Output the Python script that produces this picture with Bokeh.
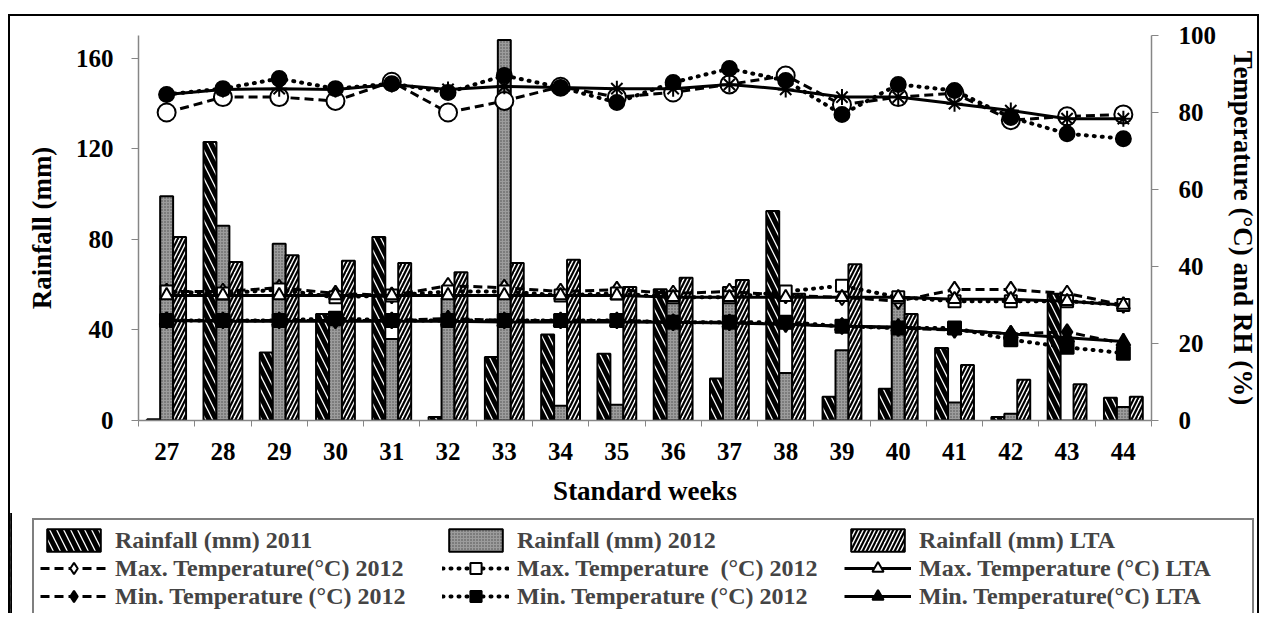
from bokeh.plotting import figure
from bokeh.models import (Range1d, LinearAxis, FixedTicker, Legend, LegendItem,
                          ColumnDataSource)
from bokeh.transform import dodge
from bokeh.embed import file_html
from bokeh.resources import INLINE

weeks = [27, 28, 29, 30, 31, 32, 33, 34, 35, 36, 37, 38, 39, 40, 41, 42, 43, 44]
rain_2011 = [0.5, 123, 30, 47, 81, 1.5, 28, 38, 29.5, 58, 18.5, 92.5, 10.5, 14, 32, 1.5, 56, 10]
rain_2012 = [99, 86, 78, 48, 36, 54, 168, 6.5, 7, 55, 59, 21, 31, 54, 8, 3, 0, 6]
rain_lta = [81, 70, 73, 70.5, 69.5, 65.5, 69.5, 71, 59, 63, 62, 56, 69, 47, 24.5, 18, 16, 10.5]

tmax_a = [33.5, 33.5, 34.5, 33, 32.5, 35, 34.5, 33.5, 34, 33, 33.5, 32.5, 32, 31, 34, 34, 33, 30]
tmax_b = [33.5, 33, 34, 32, 32.5, 33.5, 33.5, 32.5, 33, 32, 32, 33.5, 35, 32, 31, 31, 31, 30]
tmax_lta = [32.5, 32.5, 32.5, 32.5, 32.5, 32.5, 32.5, 32.5, 32.5, 32, 32, 32, 32, 32, 31.5, 31.5, 31, 30]
tmin_a = [26, 26, 26, 26, 26, 26.5, 26, 26, 26, 25.5, 25.5, 25, 24.5, 24, 23.5, 22.5, 23, 20]
tmin_b = [26, 26, 26, 26.5, 26, 26, 26, 26, 26, 25.5, 25.5, 25.5, 24.5, 24, 24, 21, 19, 17.5]
tmin_lta = [26, 25.8, 25.8, 25.8, 25.8, 25.8, 25.6, 25.6, 25.6, 25.5, 25.3, 25, 24.5, 24.3, 23.5, 22.5, 21.5, 20.5]

rh_a = [80, 84, 84, 83, 88, 80, 83, 86.7, 84, 85.2, 87.3, 89.6, 82, 84, 85, 78, 79, 79.5]
rh_b = [84.7, 86.2, 88.8, 86.2, 87.5, 85.2, 89.6, 86.5, 82.6, 87.8, 91.4, 88.3, 79.5, 87.3, 85.7, 78.7, 74.5, 73.2]
rh_c = [84.7, 86, 86.2, 86, 87.3, 86, 86.8, 86.5, 86.2, 86.2, 87.3, 86, 84, 84, 82.3, 80.5, 78.4, 78.4]

labels = ["Rainfall (mm) 2011", "Rainfall (mm) 2012", "Rainfall (mm) LTA",
          "Max. Temperature(\u00b0C) 2012", "Max. Temperature  (\u00b0C) 2012", "Max. Temperature (\u00b0C) LTA",
          "Min. Temperature (\u00b0C) 2012", "Min. Temperature (\u00b0C) 2012", "Min. Temperature(\u00b0C) LTA"]

FONT = "Liberation Serif"

data = dict(week=weeks, r11=rain_2011, r12=rain_2012, rl=rain_lta,
            xa=tmax_a, xb=tmax_b, xl=tmax_lta,
            na=tmin_a, nb=tmin_b, nl=tmin_lta,
            ha=rh_a, hb=rh_b, hc=rh_c)
src = ColumnDataSource(data)

BW = 0.23
BAR_STYLES = [
    ("r11", -BW, dict(fill_color="white", hatch_pattern="left_diagonal_line", hatch_color="black",
                      hatch_weight=5, hatch_scale=14)),
    ("r12", 0.0, dict(fill_color="#9c9c9c", hatch_pattern="dot", hatch_color="#4a4a4a",
                      hatch_weight=1, hatch_scale=3)),
    ("rl", BW, dict(fill_color="white", hatch_pattern="right_diagonal_line", hatch_color="black",
                    hatch_weight=2.2, hatch_scale=8)),
]
DASH = "9 5"
DOT = "1 7"
LINE_STYLES = [
    ("ha", DASH, "circle", "white", 18, 3, "butt"),
    ("hb", DOT, "circle", "black", 15, 4, "round"),
    ("hc", "solid", "asterisk", "black", 16, 3, "butt"),
    ("xa", DASH, "diamond", "white", 16, 3, "butt"),
    ("xb", DOT, "square", "white", 12, 4, "round"),
    ("xl", "solid", "triangle", "white", 13, 3, "butt"),
    ("na", DASH, "diamond", "black", 16, 3, "butt"),
    ("nb", DOT, "square", "black", 13, 4, "round"),
    ("nl", "solid", "triangle", "black", 14, 3, "butt"),
]


def draw_all(fig, source, y_name):
    bars = []
    for col, off, st in BAR_STYLES:
        bars.append(fig.vbar(x=dodge("week", off, range=fig.x_range), top=col, width=BW,
                             source=source, line_color="black", line_width=2, **st))
    lines = {}
    for col, dash, marker, fill, size, lw, cap in LINE_STYLES:
        kw = dict(y_range_name=y_name) if y_name else {}
        ln = fig.line("week", col, source=source, line_color="black", line_width=lw,
                      line_dash=dash, line_cap=cap, **kw)
        mk = fig.scatter("week", col, source=source, marker=marker, size=size,
                         fill_color=fill, line_color="black", line_width=2, **kw)
        lines[col] = [ln, mk]
    return bars, lines


# ---------------- main chart ----------------
p = figure(width=1251, height=499, x_range=Range1d(26.5, 44.5), y_range=Range1d(0, 170),
           output_backend="svg", toolbar_location=None,
           min_border_left=128, min_border_right=107, min_border_top=19, min_border_bottom=95)
p.styles = {"margin-left": "8px", "margin-top": "14px",
            "border-left": "2px solid black", "border-top": "2px solid black",
            "border-right": "2px solid black"}
p.extra_y_ranges = {"temp": Range1d(0, 100)}
p.outline_line_color = None
p.xgrid.visible = False
p.ygrid.visible = False

draw_all(p, src, "temp")

AX = "#868686"
p.xaxis.ticker = FixedTicker(ticks=weeks, minor_ticks=[w - 0.5 for w in weeks] + [weeks[-1] + 0.5])
p.xaxis.major_tick_out = 0
p.xaxis.major_tick_in = 0
p.xaxis.minor_tick_out = 6
p.xaxis.minor_tick_in = 0
p.xaxis.minor_tick_line_color = AX
p.xaxis.major_label_standoff = 16
p.xaxis.axis_label = "Standard weeks"
p.xaxis.axis_label_standoff = 13

p.yaxis.ticker = FixedTicker(ticks=[0, 40, 80, 120, 160])
p.yaxis.axis_label = "Rainfall (mm)"

ax2 = LinearAxis(y_range_name="temp", ticker=FixedTicker(ticks=[0, 20, 40, 60, 80, 100]),
                 axis_label="Temperature (\u00b0C) and RH (%)")
p.add_layout(ax2, "right")

for ax in [p.xaxis[0], p.yaxis[0], ax2]:
    ax.axis_line_color = AX
    ax.axis_line_width = 1.5
    ax.major_label_text_font = FONT
    ax.major_label_text_font_style = "bold"
    ax.major_label_text_font_size = "25px"
    ax.major_label_text_color = "black"
    ax.axis_label_text_font = FONT
    ax.axis_label_text_font_style = "bold"
    ax.axis_label_text_font_size = "27px"
    ax.axis_label_text_color = "black"
for ax in [p.yaxis[0], ax2]:
    ax.major_tick_line_color = AX
    ax.major_tick_out = 7
    ax.major_tick_in = 0
    ax.minor_tick_line_color = None
p.yaxis.major_label_standoff = 18
ax2.major_label_standoff = 20
p.yaxis.axis_label_standoff = 16
ax2.axis_label_standoff = 9

# ---------------- legend strip (separate root, glyphs kept out of view) ----------------
q = figure(width=1251, height=100, x_range=Range1d(100, 101), y_range=Range1d(0, 1),
           x_axis_type=None, y_axis_type=None, output_backend="svg", toolbar_location=None,
           min_border=0)
q.styles = {"margin-left": "8px",
            "border-left": "2px solid black", "border-right": "2px solid black"}
q.outline_line_color = None
q.border_fill_alpha = 0
q.background_fill_alpha = 0
lbars, llines = draw_all(q, src, None)

items = [LegendItem(label=labels[0], renderers=[lbars[0]]),
         LegendItem(label=labels[3], renderers=llines["xa"]),
         LegendItem(label=labels[6], renderers=llines["na"]),
         LegendItem(label=labels[1], renderers=[lbars[1]]),
         LegendItem(label=labels[4], renderers=llines["xb"]),
         LegendItem(label=labels[7], renderers=llines["nb"]),
         LegendItem(label=labels[2], renderers=[lbars[2]]),
         LegendItem(label=labels[5], renderers=llines["xl"]),
         LegendItem(label=labels[8], renderers=llines["nl"])]
leg = Legend(items=items, location=(22, -5), ncols=3,
             border_line_color="black", border_line_width=2,
             background_fill_color="white", background_fill_alpha=1,
             label_text_font=FONT, label_text_font_style="bold", label_text_font_size="24px",
             glyph_width=67, glyph_height=28, label_width=327, label_height=28,
             spacing=0, padding=6, margin=0, label_standoff=8)
q.add_layout(leg, "center")

open("out.html", "w").write(file_html([p, q], INLINE))
